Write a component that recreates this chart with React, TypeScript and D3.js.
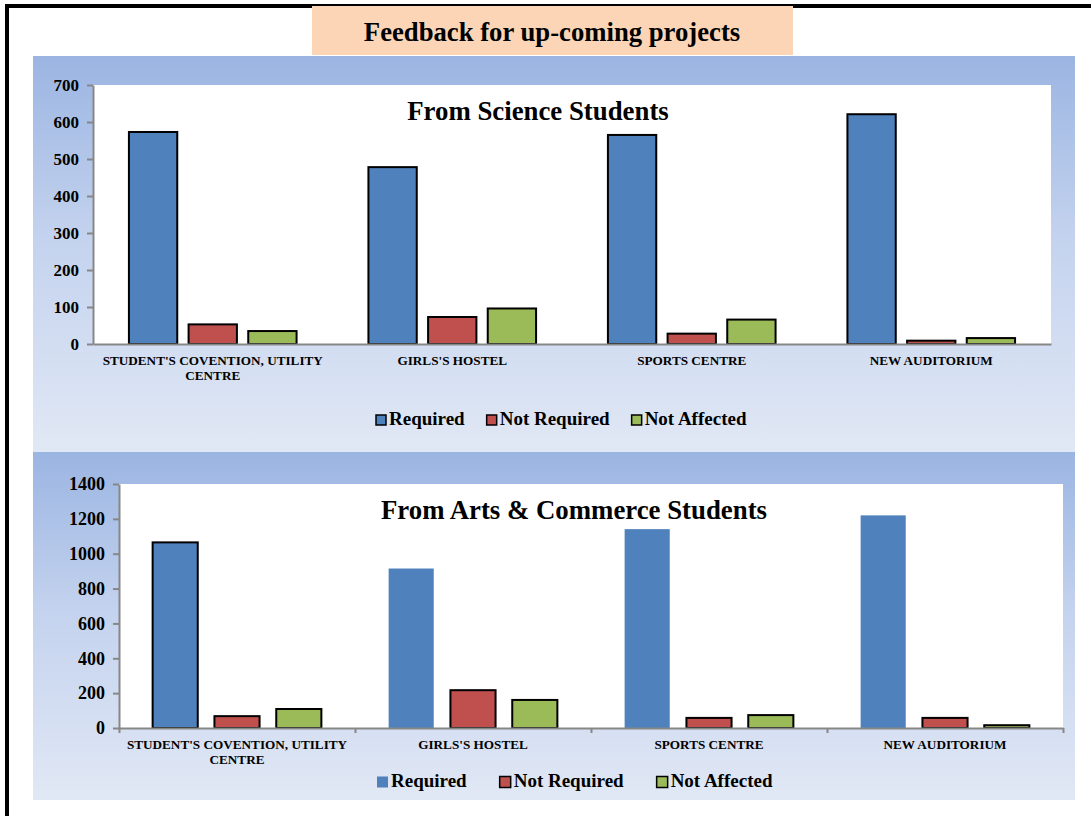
import React, { useEffect, useRef } from 'react';
import { axisBottom, axisLeft, scaleBand, scaleLinear, select } from 'd3';

// categories shared by both charts
const categories = [
    "STUDENT'S COVENTION, UTILITY CENTRE",
    "GIRLS'S HOSTEL",
    'SPORTS CENTRE',
    'NEW AUDITORIUM',
];
const seriesNames = ['Required', 'Not Required', 'Not Affected'];
const seriesColors = ['#4F81BD', '#C0504D', '#9BBB59'];

// science students
const scienceRequired = [573, 478, 565, 621];
const scienceNotRequired = [53, 73, 28, 9];
const scienceNotAffected = [35, 96, 66, 16];
const scienceTicks = [0, 100, 200, 300, 400, 500, 600, 700];

// arts & commerce students
const artsRequired = [1065, 915, 1141, 1220];
const artsNotRequired = [68, 217, 58, 58];
const artsNotAffected = [109, 161, 74, 16];
const artsTicks = [0, 200, 400, 600, 800, 1000, 1200, 1400];

const FONT = 'Liberation Serif, DejaVu Serif, serif';

const wrapLabel = (label) => {
    // excel splits the long label after "UTILITY"
    if (label.length > 20) {
        const idx = label.lastIndexOf(' ');
        return [label.slice(0, idx), label.slice(idx + 1)];
    }
    return [label];
};

const drawPanel = (svg, cfg) => {
    const g = svg.append('g').attr('class', cfg.id).style('font-family', FONT);

    // panel background
    g.append('rect')
        .attr('x', cfg.panel.x).attr('y', cfg.panel.y)
        .attr('width', cfg.panel.w).attr('height', cfg.panel.h)
        .attr('fill', 'url(#panelGrad)');

    const { left, right, top, bottom } = cfg.plot;
    g.append('rect')
        .attr('x', left).attr('y', top)
        .attr('width', right - left).attr('height', bottom - top)
        .attr('fill', '#fff');

    // scales
    const x0 = scaleBand().domain(categories).range([left, right])
        .paddingInner(cfg.groupPad).paddingOuter(cfg.groupPad / 2);
    const x1 = scaleBand().domain(seriesNames).range([0, x0.bandwidth()])
        .paddingInner(cfg.barPad).paddingOuter(0);
    const y = scaleLinear().domain([0, cfg.ticks[cfg.ticks.length - 1]]).range([bottom, top]);

    // bars
    const rows = categories.map((c, i) => ({
        category: c,
        values: cfg.series.map((s, j) => ({ name: seriesNames[j], value: s[i], i, j })),
    }));

    g.selectAll('.group')
        .data(rows)
        .join('g')
        .attr('class', 'group')
        .attr('transform', (d) => `translate(${x0(d.category)},0)`)
        .selectAll('rect')
        .data((d) => d.values)
        .join('rect')
        .attr('x', (d) => x1(d.name))
        .attr('y', (d) => y(d.value))
        .attr('width', x1.bandwidth())
        .attr('height', (d) => y(0) - y(d.value))
        .attr('fill', (d) => seriesColors[d.j])
        .attr('stroke', (d) => (cfg.noStroke(d) ? 'none' : '#000'))
        .attr('stroke-width', 2);

    // axes
    const yAxis = axisLeft(y).tickValues(cfg.ticks).tickSize(6).tickSizeOuter(0).tickPadding(8)
        .tickFormat((d) => String(d));
    const ya = g.append('g').attr('transform', `translate(${left},0)`).call(yAxis);
    ya.attr('font-family', null);
    ya.select('.domain').attr('stroke', '#878787').attr('stroke-width', 2);
    ya.selectAll('.tick line').attr('stroke', '#878787').attr('stroke-width', 2);
    ya.selectAll('.tick text')
        .style('font-family', FONT).attr('font-weight', 'bold')
        .attr('font-size', cfg.tickFont).attr('fill', '#000');

    const xAxis = axisBottom(scaleLinear().domain([0, 4]).range([left, right]))
        .tickValues(cfg.xTicks ? [0, 1, 2, 3, 4] : []).tickSize(5).tickSizeOuter(0).tickFormat(() => '');
    const xa = g.append('g').attr('transform', `translate(0,${bottom})`).call(xAxis);
    xa.select('.domain').attr('stroke', '#878787').attr('stroke-width', 2);
    xa.selectAll('.tick line').attr('stroke', '#878787').attr('stroke-width', 2);

    // category labels
    const lbl = g.selectAll('.cat-label')
        .data(categories)
        .join('text')
        .attr('class', 'cat-label')
        .attr('text-anchor', 'middle')
        .attr('font-weight', 'bold').attr('font-size', 13.2)
        .attr('y', cfg.catY);
    lbl.selectAll('tspan')
        .data((d) => wrapLabel(d).map((t) => ({ t, c: d })))
        .join('tspan')
        .attr('x', (d) => x0(d.c) + x0.bandwidth() / 2)
        .attr('dy', (d, i) => (i === 0 ? 0 : 15))
        .text((d) => d.t);

    // chart title
    g.append('text')
        .attr('x', cfg.titleX).attr('y', cfg.titleY)
        .attr('text-anchor', 'middle')
        .attr('font-weight', 'bold').attr('font-size', 26.8)
        .text(cfg.title);

    // legend
    let lx = cfg.legend.x;
    seriesNames.forEach((name, j) => {
        const sw = cfg.legend.swatch;
        g.append('rect')
            .attr('x', lx).attr('y', cfg.legend.y - sw / 2 - 5)
            .attr('width', sw).attr('height', sw)
            .attr('fill', seriesColors[j])
            .attr('stroke', cfg.legend.noStroke.includes(j) ? 'none' : '#000')
            .attr('stroke-width', 1.5);
        const t = g.append('text')
            .attr('x', lx + sw + 3).attr('y', cfg.legend.y)
            .attr('font-weight', 'bold').attr('font-size', cfg.legend.font)
            .text(name);
        lx += sw + 3 + t.node().getComputedTextLength() + cfg.legend.gap;
    });
};

export default function App() {
    const svgRef = useRef();

    useEffect(() => {
        document.body.style.margin = '0';
        const svg = select(svgRef.current);
        svg.selectAll('*').remove();

        const defs = svg.append('defs');
        const grad = defs.append('linearGradient').attr('id', 'panelGrad')
            .attr('x1', 0).attr('y1', 0).attr('x2', 0).attr('y2', 1);
        grad.append('stop').attr('offset', '0%').attr('stop-color', '#9BB5E2');
        grad.append('stop').attr('offset', '45%').attr('stop-color', '#C3D2EE');
        grad.append('stop').attr('offset', '100%').attr('stop-color', '#E1E8F5');

        svg.append('rect').attr('width', 1091).attr('height', 816).attr('fill', '#fff');

        // outer frame
        svg.append('line').attr('x1', 5).attr('x2', 1091).attr('y1', 6).attr('y2', 6)
            .attr('stroke', '#000').attr('stroke-width', 4);
        svg.append('line').attr('x1', 7).attr('x2', 7).attr('y1', 4).attr('y2', 816)
            .attr('stroke', '#000').attr('stroke-width', 4);

        drawPanel(svg, {
            id: 'science',
            panel: { x: 33, y: 56, w: 1042, h: 396 },
            plot: { left: 93, right: 1051, top: 85, bottom: 344 },
            groupPad: 0.3,
            barPad: 0.19,
            series: [scienceRequired, scienceNotRequired, scienceNotAffected],
            ticks: scienceTicks,
            tickFont: 17,
            xTicks: false,
            noStroke: () => false,
            catY: 365,
            title: 'From Science Students',
            titleX: 538,
            titleY: 120,
            legend: { x: 376, y: 425, swatch: 10, font: 19, gap: 22, noStroke: [] },
        });

        drawPanel(svg, {
            id: 'arts',
            panel: { x: 33, y: 452, w: 1042, h: 348 },
            plot: { left: 119, right: 1063, top: 484, bottom: 728 },
            groupPad: 0.285,
            barPad: 0.27,
            series: [artsRequired, artsNotRequired, artsNotAffected],
            ticks: artsTicks,
            tickFont: 18,
            xTicks: true,
            noStroke: (d) => d.j === 0 && d.i > 0,
            catY: 749,
            title: 'From Arts & Commerce Students',
            titleX: 574,
            titleY: 519,
            legend: { x: 377, y: 787, swatch: 11, font: 19, gap: 33, noStroke: [0] },
        });

        // main title box drawn over the frame
        svg.append('rect').attr('x', 312).attr('y', 6).attr('width', 481).attr('height', 49)
            .attr('fill', '#FBD5B5');
        svg.append('text').attr('x', 552).attr('y', 41).attr('text-anchor', 'middle')
            .style('font-family', FONT).attr('font-weight', 'bold').attr('font-size', 26.7)
            .text('Feedback for up-coming projects');
    }, []);

    return <svg ref={svgRef} width={1091} height={816} style={{ display: 'block' }} />;
}
